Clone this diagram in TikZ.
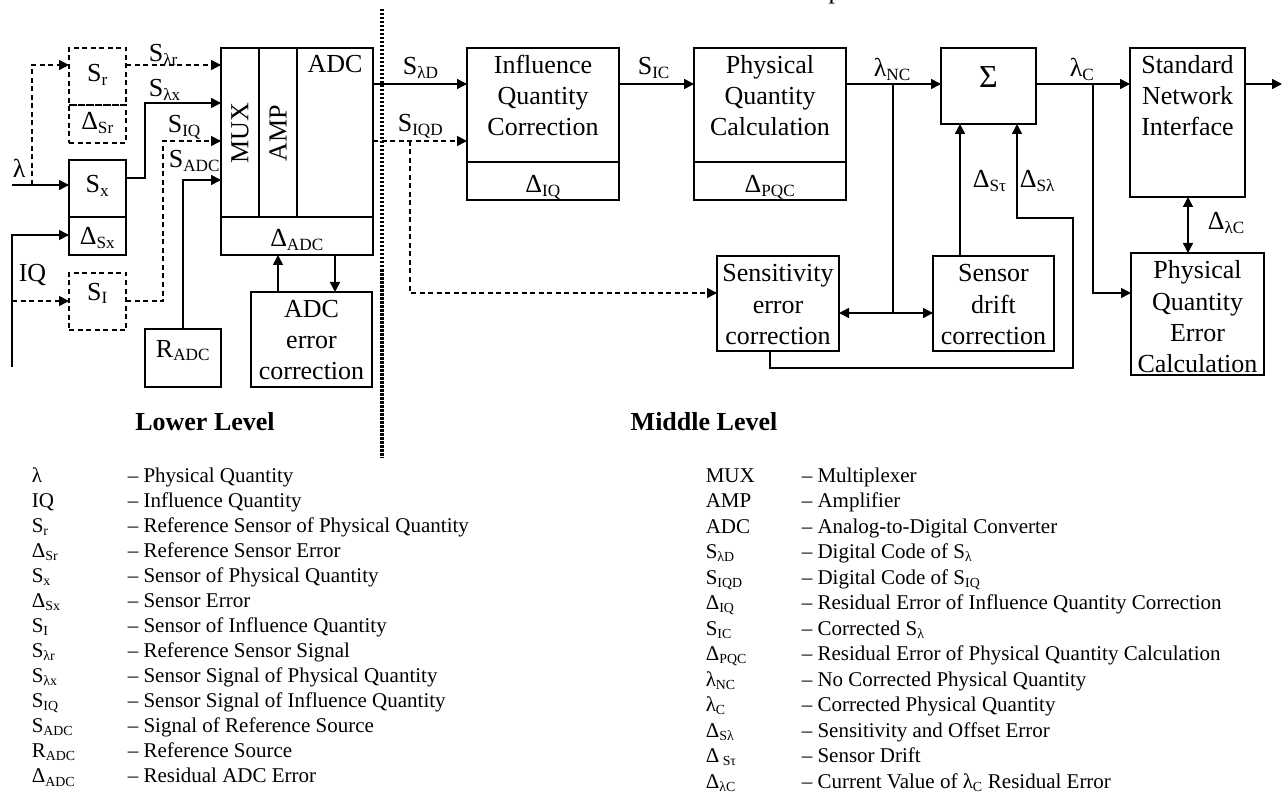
\documentclass[tikz,border=0pt]{standalone}
\usepackage{fontspec}
\setmainfont{Liberation Serif}
\usetikzlibrary{arrows.meta}
\renewcommand\defaultscriptratio{.66}
\newcommand{\sbs}[1]{\textsubscript{#1}}
\newcommand\boxnode[6][]{\node[bx,#1,minimum width={#5-#3},minimum height={#6-#4}] (#2) at ({(#3+#5)/2},{(#4+#6)/2}) {};}
\begin{document}
\begin{tikzpicture}[x=1pt,y=-1pt,line width=1.6pt,
  bx/.style={draw,inner sep=0pt,outer sep=0pt},
  dsh/.style={dash pattern=on 5pt off 3.5pt},
  arr/.style={-{Triangle[length=10pt,width=10pt]}},
  darr/.style={{Triangle[length=10pt,width=10pt]}-{Triangle[length=10pt,width=10pt]}},
  txt/.style={font=\fontsize{26}{31}\selectfont,inner sep=0pt,anchor=base},
  txtl/.style={txt,anchor=base west},
  leg/.style={font=\fontsize{21}{25}\selectfont,inner sep=0pt,anchor=base west},
  dotline/.style={line width=3.5pt,dash pattern=on 2.5pt off 1.5pt}]
\useasboundingbox (0,0) rectangle (1287,794);
\begin{scope}
\clip (0,0) rectangle (1287,794);
\node[txt] (ptop) at (835,-1) {p};
\end{scope}
% boxes
\boxnode[dsh]{Srt}{69}{48}{126}{105}
\boxnode[dsh]{Srb}{69}{105}{126}{143}
\boxnode{Sxt}{69}{160}{126}{217}
\boxnode{Sxb}{69}{217}{126}{255}
\boxnode[dsh]{SI}{69}{273}{126}{330}
\boxnode{RADC}{145}{329}{221}{387}
\boxnode{MUX}{221}{48}{259}{217}
\boxnode{AMP}{259}{48}{297}{217}
\boxnode{ADC}{297}{48}{373}{217}
\boxnode{DADC}{221}{217}{373}{255}
\boxnode{ADCE}{251}{292}{372}{387}
\boxnode{IQCt}{467}{48}{619}{162}
\boxnode{IQCb}{467}{162}{619}{200}
\boxnode{PQCt}{694}{48}{846}{162}
\boxnode{PQCb}{694}{162}{846}{200}
\boxnode{SIG}{941}{48}{1036}{124}
\boxnode{SNI}{1130}{48}{1245}{197}
\boxnode{SEC}{717}{256}{839}{351}
\boxnode{SDC}{933}{256}{1054}{351}
\boxnode{PQE}{1131}{253}{1264}{375}
% box texts
\node[txt] (tSr) at (97.5,82) {S\sbs{r}};
\node[txt] (tDSr) at (97.5,130) {Δ\sbs{Sr}};
\node[txt] (tSx) at (97.5,193) {S\sbs{x}};
\node[txt] (tDSx) at (97.5,245) {Δ\sbs{Sx}};
\node[txt] (tSI) at (97.5,300) {S\sbs{I}};
\node[txt] (tRADC) at (183,357) {R\sbs{ADC}};
\node[txt,anchor=center,rotate=90] (tMUX) at (240,133) {MUX};
\node[txt,anchor=center,rotate=90] (tAMP) at (278,133) {AMP};
\node[txt] (tADC) at (335,73) {ADC};
\node[txt] (tDADC) at (297,247) {Δ\sbs{ADC}};
\node[txt] (tE1) at (311.5,317) {ADC};
\node[txt] (tE2) at (311.5,348) {error};
\node[txt] (tE3) at (311.5,379) {correction};
\node[txt] (tI1) at (543,74) {Influence};
\node[txt] (tI2) at (543,105) {Quantity};
\node[txt] (tI3) at (543,136) {Correction};
\node[txt] (tDIQ) at (543,193) {Δ\sbs{IQ}};
\node[txt] (tP1) at (770,74) {Physical};
\node[txt] (tP2) at (770,105) {Quantity};
\node[txt] (tP3) at (770,136) {Calculation};
\node[txt] (tDPQC) at (770,193) {Δ\sbs{PQC}};
\node[txt,font=\fontsize{32}{32}\selectfont] (tSig) at (988.5,88) {Σ};
\node[txt] (tN1) at (1187.5,74) {Standard};
\node[txt] (tN2) at (1187.5,105) {Network};
\node[txt] (tN3) at (1187.5,136) {Interface};
\node[txt] (tS1) at (778,282) {Sensitivity};
\node[txt] (tS2) at (778,313) {error};
\node[txt] (tS3) at (778,344) {correction};
\node[txt] (tD1) at (993.5,282) {Sensor};
\node[txt] (tD2) at (993.5,313) {drift};
\node[txt] (tD3) at (993.5,344) {correction};
\node[txt] (tQ1) at (1197.5,279) {Physical};
\node[txt] (tQ2) at (1197.5,310) {Quantity};
\node[txt] (tQ3) at (1197.5,341) {Error};
\node[txt] (tQ4) at (1197.5,372) {Calculation};
% coordinates
\coordinate (lamIn) at (12,185);
\coordinate (lamBr) at (32,185);
\coordinate (lamUp) at (32,65);
\coordinate (sxA) at (145,178);
\coordinate (sxB) at (145,103);
\coordinate (iqBot) at (12,367);
\coordinate (iqTop) at (12,235);
\coordinate (iqBr) at (12,301);
\coordinate (siA) at (163,301);
\coordinate (siB) at (163,141);
\coordinate (raA) at (183,180);
\coordinate (xa) at (278,0);
\coordinate (xb) at (335,0);
\coordinate (yD) at (0,84);
\coordinate (yQ) at (0,141);
\coordinate (qb) at (410,141);
\coordinate (qc) at (410,293);
\coordinate (nc) at (893,84);
\coordinate (nd) at (893,313);
\coordinate (xt) at (960,0);
\coordinate (sa) at (770,368);
\coordinate (sb) at (1073,368);
\coordinate (sc) at (1073,218);
\coordinate (sd) at (1017,218);
\coordinate (ca) at (1093,84);
\coordinate (cb) at (1093,293);
\coordinate (out) at (1282,84);
\coordinate (xn) at (1188,0);
\coordinate (dt) at (382,9);
\coordinate (db) at (382,458);
% connectors
\draw[arr] (lamIn) -- (lamIn -| Sxt.west);
\draw[arr,dsh] (lamBr) -- (lamUp) -- (lamUp -| Srt.west);
\draw[arr,dsh] (Srt.east |- lamUp) -- (lamUp -| MUX.west);
\draw[arr] (Sxt.east |- sxA) -- (sxA) -- (sxB) -- (sxB -| MUX.west);
\draw[arr] (iqBot) -- (iqTop) -- (iqTop -| Sxb.west);
\draw[arr,dsh] (iqBr) -- (iqBr -| SI.west);
\draw[arr,dsh] (SI.east |- siA) -- (siA) -- (siB) -- (siB -| MUX.west);
\draw[arr] (RADC.north) -- (raA) -- (raA -| MUX.west);
\draw[arr] (ADCE.north -| xa) -- (DADC.south -| xa);
\draw[arr] (DADC.south -| xb) -- (ADCE.north -| xb);
\draw[arr] (ADC.east |- yD) -- (IQCt.west |- yD);
\draw[arr,dsh] (ADC.east |- yQ) -- (IQCt.west |- yQ);
\draw[arr,dsh] (qb) -- (qc) -- (qc -| SEC.west);
\draw[arr] (IQCt.east |- yD) -- (PQCt.west |- yD);
\draw[arr] (PQCt.east |- yD) -- (SIG.west |- yD);
\draw (nc) -- (nd);
\draw[arr] (nd) -- (nd -| SEC.east);
\draw[arr] (nd) -- (nd -| SDC.west);
\draw[arr] (SDC.north -| xt) -- (SIG.south -| xt);
\draw[arr] (SEC.south -| sa) -- (sa) -- (sb) -- (sc) -- (sd) -- (SIG.south -| sd);
\draw[arr] (SIG.east |- yD) -- (SNI.west |- yD);
\draw[arr] (ca) -- (cb) -- (cb -| PQE.west);
\draw[arr] (SNI.east |- yD) -- (out);
\draw[darr] (SNI.south -| xn) -- (PQE.north -| xn);
\draw[dotline] (dt) -- (db);
% connector labels
\node[txtl] (lLam) at (12,178) {λ};
\node[txtl] (lIQ) at (18,281) {IQ};
\node[txtl] (lSlr) at (148,62) {S\sbs{λr}};
\node[txtl] (lSlx) at (148,97) {S\sbs{λx}};
\node[txtl] (lSIQ) at (167,133) {S\sbs{IQ}};
\node[txtl] (lSADC) at (168,168) {S\sbs{ADC}};
\node[txtl] (lSlD) at (402,75) {S\sbs{λD}};
\node[txtl] (lSIQD) at (397,132) {S\sbs{IQD}};
\node[txtl] (lSIC) at (637,75) {S\sbs{IC}};
\node[txtl] (lNC) at (873,77) {λ\sbs{NC}};
\node[txtl] (lC) at (1069,77) {λ\sbs{C}};
\node[txtl] (lDSt) at (972,188) {Δ\sbs{Sτ}};
\node[txtl] (lDSl) at (1019,188) {Δ\sbs{Sλ}};
\node[txtl] (lDlC) at (1207,230) {Δ\sbs{λC}};
% level titles
\node[txt,font=\fontsize{26}{31}\selectfont\bfseries] (lower) at (205,430) {Lower Level};
\node[txt,font=\fontsize{26}{31}\selectfont\bfseries] (middle) at (704,430) {Middle Level};
% legends
\foreach \sy/\de [count=\i from 0] in {λ/Physical Quantity, IQ/Influence Quantity, S\sbs{r}/Reference Sensor of Physical Quantity, Δ\sbs{Sr}/Reference Sensor Error, S\sbs{x}/Sensor of Physical Quantity, Δ\sbs{Sx}/Sensor Error, S\sbs{I}/Sensor of Influence Quantity, S\sbs{λr}/Reference Sensor Signal, S\sbs{λx}/Sensor Signal of Physical Quantity, S\sbs{IQ}/Sensor Signal of Influence Quantity, S\sbs{ADC}/Signal of Reference Source, R\sbs{ADC}/Reference Source, Δ\sbs{ADC}/Residual ADC Error}
{\node[leg] (ls\i) at (31,{482+25.08*\i}) {\sy};
 \node[leg] (ld\i) at (127,{482+25.08*\i}) {– \de};}
\foreach \sy/\de [count=\i from 0] in {MUX/Multiplexer, AMP/Amplifier, ADC/Analog-to-Digital Converter, S\sbs{λD}/Digital Code of S\sbs{λ}, S\sbs{IQD}/Digital Code of S\sbs{IQ}, Δ\sbs{IQ}/Residual Error of Influence Quantity Correction, S\sbs{IC}/Corrected S\sbs{λ}, Δ\sbs{PQC}/Residual Error of Physical Quantity Calculation, λ\sbs{NC}/No Corrected Physical Quantity, λ\sbs{C}/Corrected Physical Quantity, Δ\sbs{Sλ}/Sensitivity and Offset Error, Δ\sbs{\ Sτ}/Sensor Drift, Δ\sbs{λC}/Current Value of λ\sbs{C} Residual Error}
{\node[leg] (rs\i) at (705,{482+25.5*\i}) {\sy};
 \node[leg] (rd\i) at (801,{482+25.5*\i}) {– \de};}
\end{tikzpicture}
\end{document}
